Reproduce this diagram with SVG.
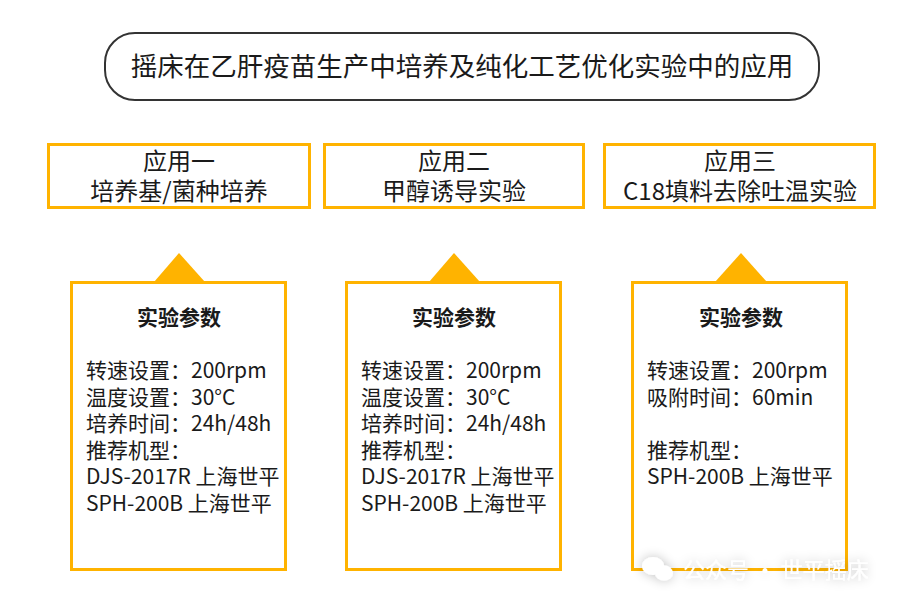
<svg xmlns="http://www.w3.org/2000/svg" width="909" height="604" viewBox="0 0 909 604">
<style>
.t{font-family:"Noto Sans CJK SC","Noto Sans",sans-serif;fill:#1a1a1a}
.title{font-size:26.5px;text-anchor:middle}
.head{font-size:24px;text-anchor:middle}
.sub{font-size:21px;font-weight:bold;text-anchor:middle}
.p{font-size:21px}
.box{fill:#fff;stroke:#FFB300;stroke-width:3}
.tri{fill:#FFB300}
.wm{font-family:"Noto Sans CJK SC",sans-serif;font-size:22px;fill:#fff}
</style>
<defs>
<filter id="glow" x="-30%" y="-100%" width="160%" height="300%">
<feGaussianBlur in="SourceAlpha" stdDeviation="6" result="b"/>
<feComponentTransfer in="b" result="c"><feFuncA type="linear" slope="0.25"/></feComponentTransfer>
<feMerge><feMergeNode in="c"/><feMergeNode in="SourceGraphic"/></feMerge>
</filter>
</defs>
<rect width="909" height="604" fill="#fff"/>
<g id="title">
<rect x="105" y="33" width="714" height="67" rx="30" ry="30" fill="#fff" stroke="#333" stroke-width="2"/>
<text class="t title" x="462" y="76">摇床在乙肝疫苗生产中培养及纯化工艺优化实验中的应用</text>
</g>
<g id="app1">
<rect class="box" x="48.5" y="144.5" width="261" height="63"/>
<text class="t head" x="179" y="170">应用一</text>
<text class="t head" x="179" y="200">培养基/菌种培养</text>
</g>
<g id="app2">
<rect class="box" x="324.5" y="144.5" width="259" height="63"/>
<text class="t head" x="454" y="170">应用二</text>
<text class="t head" x="454" y="200">甲醇诱导实验</text>
</g>
<g id="app3">
<rect class="box" x="604.5" y="144.5" width="270" height="63"/>
<text class="t head" x="740" y="170">应用三</text>
<text class="t head" x="740" y="200">C18填料去除吐温实验</text>
</g>
<g id="connectors">
<polygon class="tri" points="179,253 154,282 205,282"/>
<polygon class="tri" points="454,253 429,282 480,282"/>
<polygon class="tri" points="741,253 715,282 767,282"/>
</g>
<g id="params1">
<rect class="box" x="71.5" y="282.5" width="214" height="287"/>
<text class="t sub" x="179" y="325">实验参数</text>
<text class="t p" x="86" y="378">转速设置：200rpm</text>
<text class="t p" x="86" y="404.6">温度设置：30°C</text>
<text class="t p" x="86" y="431.2">培养时间：24h/48h</text>
<text class="t p" x="86" y="457.8">推荐机型：</text>
<text class="t p" x="86" y="484.4">DJS-2017R 上海世平</text>
<text class="t p" x="86" y="511">SPH-200B 上海世平</text>
</g>
<g id="params2">
<rect class="box" x="346.5" y="282.5" width="214" height="287"/>
<text class="t sub" x="454" y="325">实验参数</text>
<text class="t p" x="361" y="378">转速设置：200rpm</text>
<text class="t p" x="361" y="404.6">温度设置：30°C</text>
<text class="t p" x="361" y="431.2">培养时间：24h/48h</text>
<text class="t p" x="361" y="457.8">推荐机型：</text>
<text class="t p" x="361" y="484.4">DJS-2017R 上海世平</text>
<text class="t p" x="361" y="511">SPH-200B 上海世平</text>
</g>
<g id="params3">
<rect class="box" x="632.5" y="282.5" width="214" height="287"/>
<text class="t sub" x="741" y="325">实验参数</text>
<text class="t p" x="647" y="378">转速设置：200rpm</text>
<text class="t p" x="647" y="404.6">吸附时间：60min</text>
<text class="t p" x="647" y="457.8">推荐机型：</text>
<text class="t p" x="647" y="484.4">SPH-200B 上海世平</text>
</g>
<g id="watermark" filter="url(#glow)">
<ellipse cx="653" cy="566" rx="11" ry="9" fill="#fff"/>
<ellipse cx="664" cy="573" rx="9" ry="7.5" fill="#fff"/>
<text class="wm" x="683" y="578">公众号 · 世平摇床</text>
</g>
</svg>
